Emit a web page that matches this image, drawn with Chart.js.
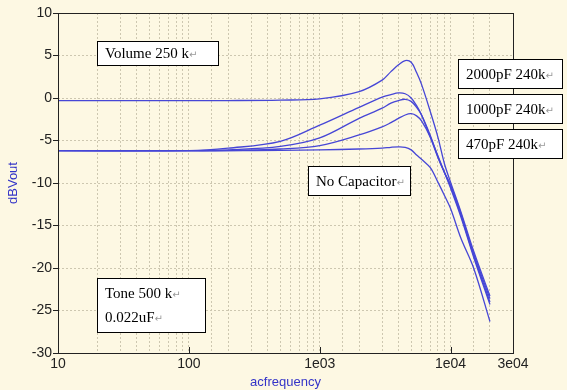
<!DOCTYPE html>
<html>
<head>
<meta charset="utf-8">
<script src="https://cdn.jsdelivr.net/npm/chart.js@4/dist/chart.umd.min.js"></script>
<style>
  html, body { margin: 0; padding: 0; background: #fdf8e3; }
  canvas { display: block; }
</style>
</head>
<body>
<canvas id="grafico" width="567" height="390"></canvas>
<script>
// frequencies (Hz) and dBVout for each curve
const freq       = [10, 100, 200, 500, 1000, 2000, 3000, 3500, 4000, 4500, 5000, 5500, 6000, 7000, 8000, 9000, 10000, 12000, 15000, 20000];
const volume250k = [-0.3, -0.3, -0.3, -0.25, -0.1, 0.75, 2.1, 3.1, 3.9, 4.4, 4.2, 3.0, 1.6, -1.6, -4.6, -7.8, -9.9, -13.4, -18.0, -23.3];
const cap2000pF  = [-6.2, -6.2, -5.9, -5.1, -3.2, -1.1, 0.1, 0.4, 0.6, 0.5, 0.0, -0.9, -2.0, -4.6, -7.0, -8.8, -10.2, -13.6, -18.3, -23.6];
const cap1000pF  = [-6.2, -6.2, -6.1, -5.7, -4.7, -2.4, -1.2, -0.6, -0.3, -0.15, -0.4, -1.1, -2.0, -4.4, -6.9, -8.8, -10.4, -13.8, -18.5, -24.0];
const cap470pF   = [-6.2, -6.2, -6.2, -6.0, -5.6, -4.35, -3.4, -2.9, -2.4, -2.0, -1.85, -2.1, -2.7, -4.6, -6.8, -8.8, -10.6, -14.0, -18.7, -24.3];
const noCap      = [-6.2, -6.2, -6.2, -6.15, -6.1, -6.0, -5.9, -5.8, -5.75, -5.8, -6.1, -6.7, -7.2, -8.2, -9.9, -11.5, -13.0, -16.5, -20.0, -26.3];

const xTickValues = [10, 100, 1000, 10000, 30000];
const xTickLabels = ['10', '100', '1e03', '1e04', '3e04'];

const notas = [
    { linhas: ['Volume 250 k'], x: 97, y: 41, w: 121, h: 24 },
    { linhas: ['Tone 500 k', '0.022uF'], x: 97, y: 278, w: 108, h: 54 },
    { linhas: ['2000pF 240k'], x: 458, y: 59, w: 104, h: 29 },
    { linhas: ['1000pF 240k'], x: 458, y: 94, w: 104, h: 29 },
    { linhas: ['470pF 240k'], x: 458, y: 129, w: 104, h: 29 },
    { linhas: ['No Capacitor'], x: 308, y: 166, w: 102, h: 29 }
];

const azul = '#4646d6';
const series = [volume250k, cap2000pF, cap1000pF, cap470pF, noCap];
const nomes = ['Volume 250k', '2000pF 240k', '1000pF 240k', '470pF 240k', 'No Capacitor'];

const molduraPlugin = {
    id: 'moldura',
    afterDatasetsDraw(chart) {
        const { ctx, chartArea: a, scales } = chart;
        ctx.save();
        ctx.strokeStyle = '#222';
        ctx.lineWidth = 1;
        ctx.strokeRect(a.left + 0.5, a.top + 0.5, a.right - a.left, a.bottom - a.top);
        // inner x ticks
        xTickValues.forEach(v => {
            const px = Math.round(scales.x.getPixelForValue(v)) + 0.5;
            ctx.beginPath();
            ctx.moveTo(px, a.bottom);
            ctx.lineTo(px, a.bottom - 6);
            ctx.stroke();
        });
        // text boxes
        notas.forEach(n => {
            ctx.fillStyle = '#fff';
            ctx.fillRect(n.x, n.y, n.w, n.h);
            ctx.strokeStyle = '#000';
            ctx.strokeRect(n.x + 0.5, n.y + 0.5, n.w, n.h);
            n.linhas.forEach((t, i) => {
                const base = n.linhas.length > 1 ? n.y + 20 + i * 24 : n.y + n.h / 2 + 5;
                ctx.font = '15px "Liberation Serif"';
                ctx.fillStyle = '#000';
                ctx.textBaseline = 'alphabetic';
                ctx.fillText(t, n.x + 8, base);
                const w = ctx.measureText(t).width;
                ctx.font = '10px "DejaVu Sans"';
                ctx.fillStyle = '#999';
                ctx.fillText('\u21b5', n.x + 8 + w, base);
            });
        });
        ctx.restore();
    }
};

new Chart(document.getElementById('grafico').getContext('2d'), {
    type: 'line',
    data: {
        datasets: series.map((s, i) => ({
            label: nomes[i],
            data: freq.map((f, j) => ({ x: f, y: s[j] })),
            borderColor: azul,
            borderWidth: 1.3,
            pointRadius: 0,
            tension: 0.35,
            fill: false
        }))
    },
    options: {
        responsive: false,
        animation: false,
        layout: { padding: { top: 13, right: 54, left: 0, bottom: 0 } },
        plugins: { legend: { display: false }, tooltip: { enabled: false } },
        scales: {
            x: {
                type: 'logarithmic',
                min: 10,
                max: 30000,
                afterFit: s => { s.height = 37; },
                grid: { color: '#cdc7b0', drawTicks: false },
                border: { display: false, dash: [2, 2] },
                ticks: {
                    autoSkip: false,
                    maxRotation: 0,
                    padding: 3,
                    color: '#222',
                    font: { family: 'Liberation Sans', size: 14 },
                    callback: v => {
                        const k = xTickValues.indexOf(v);
                        return k >= 0 ? xTickLabels[k] : '';
                    }
                },
                title: {
                    display: true,
                    text: 'acfrequency',
                    color: '#3434c8',
                    font: { family: 'Liberation Sans', size: 13 },
                    padding: { top: 0, bottom: 0 }
                }
            },
            y: {
                min: -30,
                max: 10,
                afterFit: s => { s.width = 58; },
                grid: {
                    color: '#cdc7b0',
                    tickColor: '#222',
                    tickLength: 5,
                    tickBorderDash: [],
                },
                border: { display: false, dash: [2, 2] },
                ticks: {
                    stepSize: 5,
                    padding: 1,
                    color: '#222',
                    font: { family: 'Liberation Sans', size: 14 }
                },
                title: {
                    display: true,
                    text: 'dBVout',
                    color: '#3434c8',
                    font: { family: 'Liberation Sans', size: 13 },
                    padding: { top: 6, bottom: 0 }
                }
            }
        }
    },
    plugins: [molduraPlugin]
});
</script>
</body>
</html>
